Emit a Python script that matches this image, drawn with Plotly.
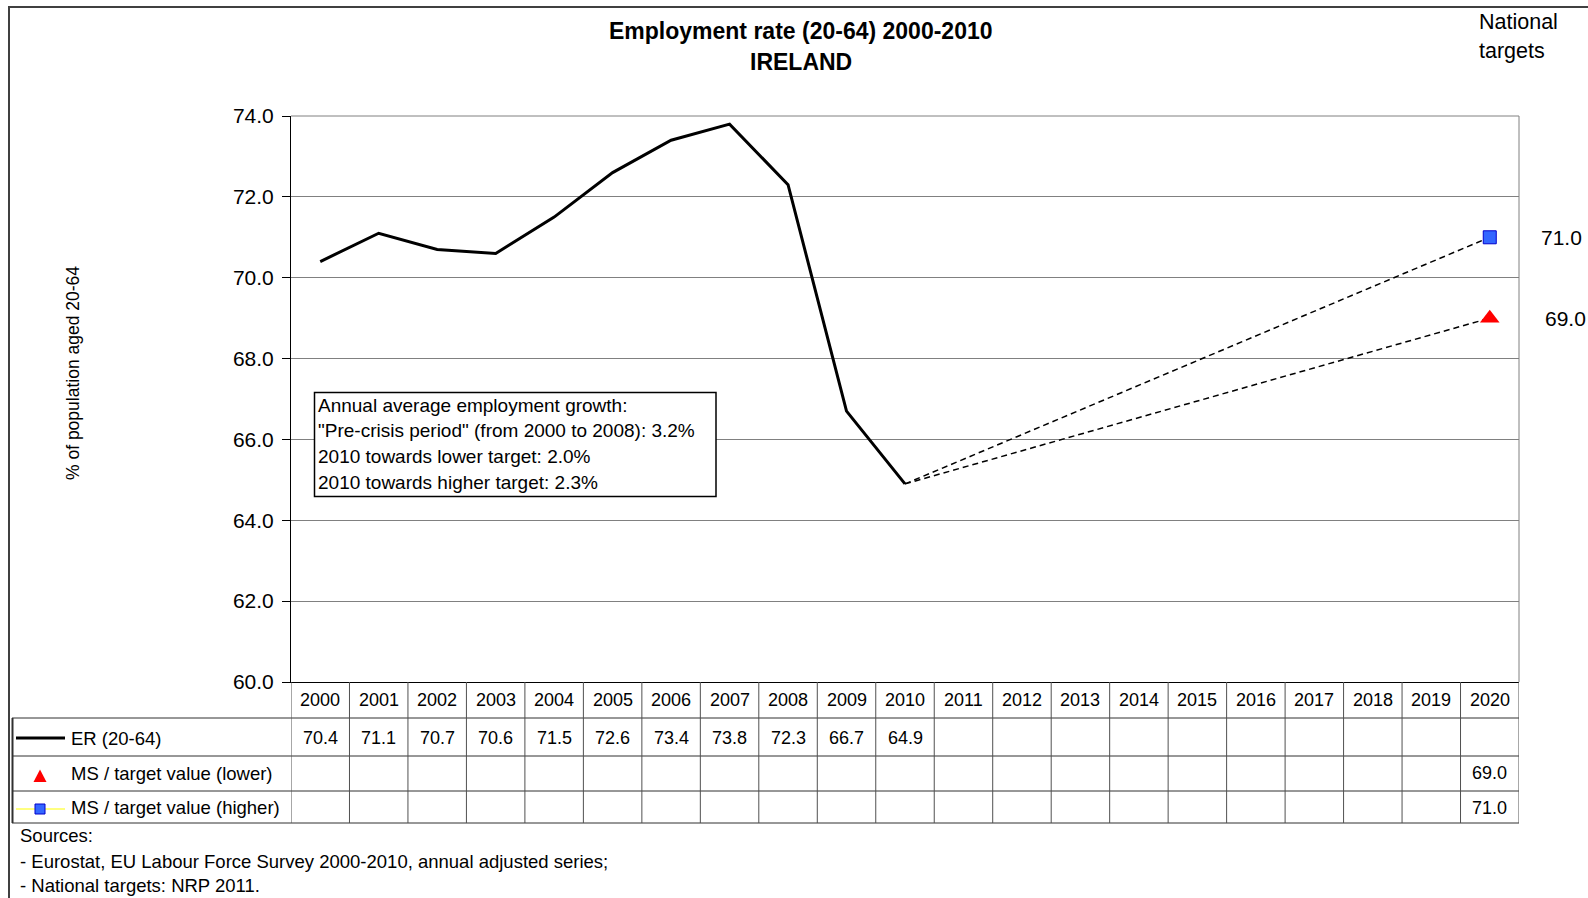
import plotly.graph_objects as go

# ---- data ----
years = list(range(2000, 2021))
er_years = list(range(2000, 2011))
er_values = [70.4, 71.1, 70.7, 70.6, 71.5, 72.6, 73.4, 73.8, 72.3, 66.7, 64.9]
target_year = 2020
target_lower = 69.0
target_higher = 71.0
y_ticks = [60.0, 62.0, 64.0, 66.0, 68.0, 70.0, 72.0, 74.0]

title_lines = ["Employment rate (20-64) 2000-2010", "IRELAND"]
growth_lines = [
    "Annual average employment growth:",
    "\"Pre-crisis period\" (from 2000 to 2008): 3.2%",
    "2010 towards lower target: 2.0%",
    "2010 towards higher target: 2.3%",
]
series_names = ["ER (20-64)", "MS / target value (lower)", "MS / target value (higher)"]
source_lines = [
    "Sources:",
    "- Eurostat, EU Labour Force Survey 2000-2010, annual adjusted series;",
    "- National targets: NRP 2011.",
]

# ---- layout geometry (pixels) ----
W, H = 1588, 898
PL, PR, PT, PB = 291, 1519, 116, 682
PW, PH = PR - PL, PB - PT
FONT = "Liberation Sans, Arial, sans-serif"


def px(x):
    return (x - PL) / PW


def py(y):
    return (PB - y) / PH


def label(x, y, text, size=18, xanchor="center", xref="paper", yref="paper", **kw):
    return dict(x=x, y=y, xref=xref, yref=yref, text=text, showarrow=False,
                xanchor=xanchor, yanchor="middle",
                font=dict(size=size, color="black", family=FONT), **kw)


fig = go.Figure()

# employment rate line
fig.add_trace(go.Scatter(
    x=er_years, y=er_values, mode="lines",
    line=dict(color="black", width=3), hoverinfo="skip"))

# dashed paths from the last observation to each target
for tv in (target_higher, target_lower):
    fig.add_trace(go.Scatter(
        x=[er_years[-1], target_year], y=[er_values[-1], tv], mode="lines",
        line=dict(color="black", width=1.5, dash="6px,4px"), hoverinfo="skip"))

# target markers
fig.add_trace(go.Scatter(
    x=[target_year], y=[target_lower], mode="markers",
    marker=dict(symbol="triangle-up", size=17, color="#FF0000",
                line=dict(color="#FF0000", width=0))))
fig.add_trace(go.Scatter(
    x=[target_year], y=[target_higher], mode="markers",
    marker=dict(symbol="square", size=13, color="#3366FF",
                line=dict(color="#0000CC", width=1))))

shapes = []
annotations = []

# outer frame
shapes.append(dict(type="rect", xref="paper", yref="paper",
                   x0=px(9), x1=px(1600), y0=py(7), y1=py(910),
                   line=dict(color="#404040", width=2), layer="below"))

# plot area top/right border
shapes.append(dict(type="line", xref="paper", yref="paper",
                   x0=0, x1=1, y0=1, y1=1, line=dict(color="#808080", width=1)))
shapes.append(dict(type="line", xref="paper", yref="paper",
                   x0=1, x1=1, y0=0, y1=1, line=dict(color="#808080", width=1)))

# ---- data table below the plot ----
row_edges = [718, 756, 791, 823]
row_centers = [700, 738, 773, 807.5]
for ye in row_edges:
    shapes.append(dict(type="line", xref="paper", yref="paper",
                       x0=px(12), x1=1, y0=py(ye), y1=py(ye),
                       line=dict(color="#303030", width=1)))
for i in range(len(years) + 1):
    b = years[0] - 0.5 + i
    shapes.append(dict(type="line", xref="x", yref="paper",
                       x0=b, x1=b, y0=0, y1=py(823),
                       line=dict(color="#505050", width=1)))
shapes.append(dict(type="line", xref="paper", yref="paper",
                   x0=px(12.5), x1=px(12.5), y0=py(718), y1=py(823),
                   line=dict(color="#303030", width=2)))

# year header
for yr in years:
    annotations.append(label(yr, py(row_centers[0]), str(yr), xref="x"))
# ER values
for yr, v in zip(er_years, er_values):
    annotations.append(label(yr, py(row_centers[1]), f"{v:.1f}", xref="x"))
# target values
for v, rc in ((target_lower, row_centers[2]), (target_higher, row_centers[3])):
    annotations.append(label(target_year, py(rc), f"{v:.1f}", xref="x"))

# legend column
for name, rc in zip(series_names, row_centers[1:]):
    annotations.append(label(px(69), py(rc), name, size=18.5, xanchor="left"))
shapes.append(dict(type="line", xref="paper", yref="paper",
                   x0=px(16), x1=px(65), y0=py(738), y1=py(738),
                   line=dict(color="black", width=3)))
tri = [(33.5, 782), (46.5, 782), (40, 769.5)]
shapes.append(dict(type="path", xref="paper", yref="paper",
                   path="M " + " L ".join(f"{px(a)},{py(b)}" for a, b in tri) + " Z",
                   fillcolor="#FF0000", line=dict(color="#FF0000", width=0)))
shapes.append(dict(type="line", xref="paper", yref="paper",
                   x0=px(16), x1=px(65), y0=py(809), y1=py(809),
                   line=dict(color="#FFFF00", width=1)))
shapes.append(dict(type="rect", xref="paper", yref="paper",
                   x0=px(35), x1=px(45), y0=py(814), y1=py(804),
                   fillcolor="#3366FF", line=dict(color="#0000CC", width=1)))

# sources
for txt, yc in zip(source_lines, [835.5, 861, 885.5]):
    annotations.append(label(px(18), py(yc), txt, size=18.5, xanchor="left"))

# growth text box
shapes.append(dict(type="rect", xref="paper", yref="paper",
                   x0=px(314.5), x1=px(716), y0=py(496.5), y1=py(392.5),
                   fillcolor="white", line=dict(color="black", width=1.5)))
for txt, yc in zip(growth_lines, [405, 430.5, 456.5, 482.5]):
    annotations.append(label(px(315.5), py(yc), txt, size=19, xanchor="left"))

# title
for txt, yc in zip(title_lines, [30.5, 62]):
    annotations.append(label(px(801), py(yc), f"<b>{txt}</b>", size=23))

# national targets header and values
for txt, yc in zip(["National", "targets"], [22.5, 50.5]):
    annotations.append(label(px(1477), py(yc), txt, size=21.5, xanchor="left"))
for v, shift in ((target_higher, 72), (target_lower, 76)):
    annotations.append(label(target_year, v, f"{v:.1f}", size=21,
                             xref="x", yref="y", xshift=shift))

# y-axis title
annotations.append(label(px(73), py(373), "% of population aged 20-64",
                         size=17.5, textangle=-90))

fig.update_layout(
    width=W, height=H,
    margin=dict(l=PL, r=W - PR, t=PT, b=H - PB, pad=0),
    paper_bgcolor="white", plot_bgcolor="white",
    showlegend=False,
    shapes=shapes, annotations=annotations,
    font=dict(family=FONT, color="black"),
    xaxis=dict(range=[years[0] - 0.5, years[-1] + 0.5], showticklabels=False,
               showgrid=False, zeroline=False, ticks="",
               showline=True, linecolor="black", linewidth=1),
    yaxis=dict(range=[y_ticks[0], y_ticks[-1]], tickvals=y_ticks,
               ticktext=[f"{t:.1f}" for t in y_ticks],
               showgrid=True, gridcolor="#808080", gridwidth=1,
               zeroline=False, showline=True, linecolor="black", linewidth=1,
               ticks="outside", ticklen=8, tickcolor="black",
               ticklabelstandoff=4,
               tickfont=dict(size=21, color="black", family=FONT)),
)

fig.write_html("out.html")
